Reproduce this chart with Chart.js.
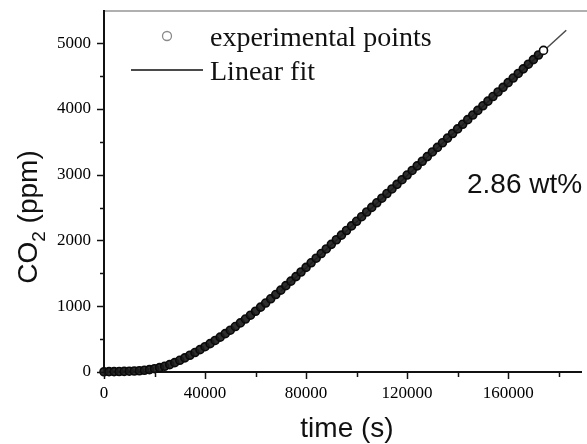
<!DOCTYPE html>
<html>
<head>
<meta charset="utf-8">
<script src="https://cdn.jsdelivr.net/npm/chart.js@4"></script>
<style>
  html, body { margin: 0; padding: 0; background: #fff; }
  #wrap { width: 587px; height: 444px; position: relative; }
</style>
</head>
<body>
<div id="wrap"><canvas id="co2-chart"></canvas></div>
<script>
// values
const timeS = [
  0, 2000, 4000, 6000, 8000, 10000, 12000, 14000, 16000, 18000,
  20000, 22000, 24000, 26000, 28000, 30000, 32000, 34000, 36000, 38000,
  40000, 42000, 44000, 46000, 48000, 50000, 52000, 54000, 56000, 58000,
  60000, 62000, 64000, 66000, 68000, 70000, 72000, 74000, 76000, 78000,
  80000, 82000, 84000, 86000, 88000, 90000, 92000, 94000, 96000, 98000,
  100000, 102000, 104000, 106000, 108000, 110000, 112000, 114000, 116000, 118000,
  120000, 122000, 124000, 126000, 128000, 130000, 132000, 134000, 136000, 138000,
  140000, 142000, 144000, 146000, 148000, 150000, 152000, 154000, 156000, 158000,
  160000, 162000, 164000, 166000, 168000, 170000, 172000, 174000
]
const co2Ppm = [
  4, 5, 6, 7, 9, 12, 15, 19, 26, 36,
  50, 66, 87, 112, 142, 178, 215, 255, 296, 340,
  385, 431, 480, 530, 583, 636, 691, 747, 805, 864,
  924, 986, 1049, 1113, 1178, 1245, 1313, 1382, 1451, 1521,
  1591, 1661, 1731, 1801, 1871, 1941, 2011, 2081, 2152, 2222,
  2292, 2362, 2433, 2503, 2573, 2643, 2714, 2784, 2854, 2924,
  2995, 3065, 3135, 3205, 3276, 3346, 3416, 3486, 3557, 3627,
  3697, 3767, 3838, 3908, 3978, 4048, 4119, 4189, 4259, 4329,
  4400, 4470, 4540, 4610, 4681, 4751, 4821, 4891
]
// linear fit end points
const fitTime = [70000, 183000]
const fitPpm = [1231, 5197]

// tick positions, labels only on the major ones
const xTicks = [0, 20000, 40000, 60000, 80000, 100000, 120000, 140000, 160000, 180000]
const xLabelTicks = [0, 40000, 80000, 120000, 160000]
const yTicks = [0, 500, 1000, 1500, 2000, 2500, 3000, 3500, 4000, 4500, 5000]
const yLabelTicks = [0, 1000, 2000, 3000, 4000, 5000]

const noir = '#111'
const gris = '#8a8a8a'
const sans = '"Liberation Sans", Arial, sans-serif'
const serif = '"Liberation Serif", "Times New Roman", serif'

// ticks, frame and text drawn on top
const decor = {
  id: 'decor',
  afterDraw(chart) {
    const ctx = chart.ctx
    const x = chart.scales.x
    const y = chart.scales.y
    const area = chart.chartArea
    ctx.save()

    // light top frame line
    ctx.strokeStyle = '#b0b0b0'
    ctx.lineWidth = 2
    ctx.beginPath()
    ctx.moveTo(area.left + 1, area.top)
    ctx.lineTo(chart.width, area.top)
    ctx.stroke()

    // tick marks, longer on labelled ones
    ctx.strokeStyle = noir
    ctx.lineWidth = 1.5
    yTicks.forEach(v => {
      const py = Math.round(y.getPixelForValue(v)) + 0.5
      const len = yLabelTicks.includes(v) ? 7 : 4
      ctx.beginPath()
      ctx.moveTo(area.left - len, py)
      ctx.lineTo(area.left, py)
      ctx.stroke()
    })
    xTicks.forEach(v => {
      const px = Math.round(x.getPixelForValue(v)) + 0.5
      const len = xLabelTicks.includes(v) ? 7 : 5
      ctx.beginPath()
      ctx.moveTo(px, area.bottom)
      ctx.lineTo(px, area.bottom + len)
      ctx.stroke()
    })

    ctx.fillStyle = noir
    ctx.textBaseline = 'alphabetic'

    // y axis title with subscript
    ctx.save()
    ctx.translate(37, 217)
    ctx.rotate(-Math.PI / 2)
    const big = '28px ' + sans
    const small = '19px ' + sans
    ctx.font = big
    const wCO = ctx.measureText('CO').width
    const wRest = ctx.measureText(' (ppm)').width
    ctx.font = small
    const wSub = ctx.measureText('2').width
    const total = wCO + wSub + wRest
    let cx = -total / 2
    ctx.font = big
    ctx.fillText('CO', cx, 0)
    cx += wCO
    ctx.font = small
    ctx.fillText('2', cx, 8)
    cx += wSub
    ctx.font = big
    ctx.fillText(' (ppm)', cx, 0)
    ctx.restore()

    // x axis title
    ctx.font = '28px ' + sans
    ctx.textAlign = 'center'
    ctx.fillText('time (s)', 347, 437)

    // annotation
    ctx.font = '28px ' + sans
    ctx.textAlign = 'left'
    ctx.fillText('2.86 wt%', 467, 193)

    // legend
    ctx.strokeStyle = gris
    ctx.lineWidth = 1.3
    ctx.beginPath()
    ctx.arc(167, 36, 4.5, 0, Math.PI * 2)
    ctx.stroke()
    ctx.strokeStyle = '#4a4a4a'
    ctx.lineWidth = 2
    ctx.beginPath()
    ctx.moveTo(131, 70)
    ctx.lineTo(203, 70)
    ctx.stroke()
    ctx.font = '28px ' + serif
    ctx.fillStyle = '#111'
    ctx.fillText('experimental points', 210, 46)
    ctx.fillText('Linear fit', 210, 80)

    ctx.restore()
  }
}

const ctx = document.getElementById('co2-chart').getContext('2d')
const chart = new Chart(ctx, {
  type: 'scatter',
  data: {
    datasets: [
      {
        label: 'experimental points',
        data: timeS.map((t, i) => ({ x: t, y: co2Ppm[i] })),
        pointRadius: 4,
        pointBorderWidth: 1.6,
        borderColor: '#0a0a0a',
        // last point stays open like in the picture
        backgroundColor: c => c.dataIndex === timeS.length - 1 ? '#fff' : 'rgba(28, 28, 28, 0.92)',
        clip: false
      },
      {
        label: 'Linear fit',
        type: 'line',
        data: fitTime.map((t, i) => ({ x: t, y: fitPpm[i] })),
        showLine: true,
        pointRadius: 0,
        borderColor: '#4a4a4a',
        borderWidth: 1.5,
        clip: false
      }
    ]
  },
  options: {
    responsive: true,
    maintainAspectRatio: false,
    animation: false,
    events: [],
    layout: { padding: { top: 11, right: 0, bottom: 0, left: 0 } },
    scales: {
      x: {
        type: 'linear',
        min: 0,
        max: 189000,
        grid: { display: false, drawTicks: true, tickLength: 7 },
        border: { display: true, color: noir, width: 2 },
        ticks: {
          autoSkip: false,
          maxRotation: 0,
          padding: 4,
          color: '#000',
          font: { family: serif, size: 17 },
          callback: v => xLabelTicks.includes(v) ? String(v) : ''
        },
        afterBuildTicks(scale) {
          scale.ticks = xTicks.map(v => ({ value: v }))
        },
        afterFit(scale) {
          scale.height = 72
          scale.paddingLeft = 0
          scale.paddingRight = 0
        }
      },
      y: {
        type: 'linear',
        min: 0,
        max: 5490,
        grid: { display: false, drawTicks: true, tickLength: 7 },
        border: { display: true, color: noir, width: 2 },
        ticks: {
          autoSkip: false,
          padding: 6,
          color: '#000',
          font: { family: serif, size: 17 },
          callback: v => yLabelTicks.includes(v) ? String(v) : ''
        },
        afterBuildTicks(scale) {
          scale.ticks = yTicks.map(v => ({ value: v }))
        },
        afterFit(scale) {
          scale.width = 104
          scale.paddingTop = 0
          scale.paddingBottom = 0
        }
      }
    },
    plugins: {
      legend: { display: false },
      tooltip: { enabled: false }
    }
  },
  plugins: [decor]
})
</script>
</body>
</html>
